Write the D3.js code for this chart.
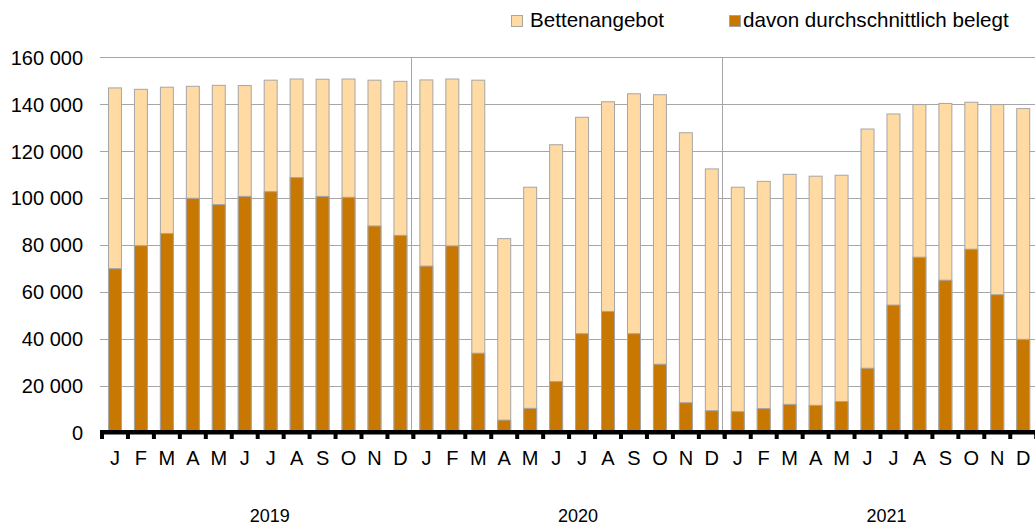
<!DOCTYPE html>
<html>
<head>
<meta charset="utf-8">
<script src="https://cdn.jsdelivr.net/npm/d3@7"></script>
<style>
  body { margin: 0; background: #fff; }
  svg { display: block; font-family: "Liberation Sans", Arial, sans-serif; }
</style>
</head>
<body>
<svg id="chart" viewBox="0 0 1035 526" width="1035" height="526"></svg>
<script>
// data
const years = ["2019", "2020", "2021"];
const monthLabels = ["J", "F", "M", "A", "M", "J", "J", "A", "S", "O", "N", "D"];

const bedsOffered = [
  // 2019
  147000, 146400, 147300, 147700, 148100, 148000, 150300, 150800, 150700, 150800, 150300, 149800,
  // 2020
  150400, 150800, 150300, 82800, 104700, 122800, 134500, 141100, 144500, 144100, 127900, 112500,
  // 2021
  104700, 107200, 110200, 109400, 109800, 129500, 135900, 139900, 140400, 140900, 139900, 138200
];

const bedsOccupied = [
  // 2019
  70000, 79800, 85000, 100000, 97300, 100800, 102800, 108800, 100800, 100400, 88200, 84200,
  // 2020
  71100, 79700, 34000, 5500, 10500, 21900, 42300, 51800, 42300, 29300, 12900, 9500,
  // 2021
  9100, 10400, 12200, 11800, 13400, 27600, 54500, 74900, 65100, 78300, 58900, 39900
];

const yTicks = [0, 20000, 40000, 60000, 80000, 100000, 120000, 140000, 160000];
const seriesNames = ["Bettenangebot", "davon durchschnittlich belegt"];

const colLight = "#FFDAA3";
const colDark = "#C87700";
const colGrey = "#A6A6A6";

const svg = d3.select("#chart");

const rows = bedsOffered.map((d, i) => ({
  idx: i,
  month: monthLabels[i % 12],
  offered: d,
  occupied: bedsOccupied[i]
}));

// scales
const xScale = d3
  .scaleBand()
  .domain(rows.map((d) => d.idx))
  .range([102, 1036.2])
  .paddingInner(0.5)
  .paddingOuter(0.25);

const step = xScale.step();
const bandStart = (i) => xScale(i) - step * 0.25;

const yScale = d3.scaleLinear().domain([0, 160000]).range([433, 57.4]);

const fmt = d3.formatLocale({
  decimal: ",",
  thousands: " ",
  grouping: [3],
  currency: ["", ""]
}).format(",d");

// gridlines
svg
  .append("g")
  .attr("class", "grid")
  .selectAll("line")
  .data(yTicks.filter((d) => d > 0))
  .enter()
  .append("line")
  .attr("x1", 100)
  .attr("x2", 1035)
  .attr("y1", (d) => Math.round(yScale(d)) + 0.5)
  .attr("y2", (d) => Math.round(yScale(d)) + 0.5)
  .style("stroke", colGrey)
  .style("stroke-width", 1);

// y labels
svg
  .append("g")
  .attr("class", "yLabels")
  .selectAll("text")
  .data(yTicks)
  .enter()
  .append("text")
  .attr("x", 83)
  .attr("y", (d) => yScale(d))
  .attr("dy", "0.36em")
  .style("text-anchor", "end")
  .style("font-size", "20px")
  .style("fill", "#000")
  .text((d) => fmt(d));

// year separators
svg
  .append("g")
  .attr("class", "separators")
  .selectAll("line")
  .data([12, 24])
  .enter()
  .append("line")
  .attr("x1", (d) => Math.round(bandStart(d) - 2.5) + 0.5)
  .attr("x2", (d) => Math.round(bandStart(d) - 2.5) + 0.5)
  .attr("y1", yScale(160000))
  .attr("y2", 438)
  .style("stroke", colGrey)
  .style("stroke-width", 1);

// bars: offered behind, occupied in front
const barsG = svg.append("g").attr("class", "bars");

barsG
  .selectAll("rect.offered")
  .data(rows)
  .enter()
  .append("rect")
  .attr("class", "offered")
  .attr("x", (d) => xScale(d.idx))
  .attr("y", (d) => yScale(d.offered))
  .attr("width", xScale.bandwidth())
  .attr("height", (d) => yScale(0) - yScale(d.offered))
  .attr("fill", colLight)
  .style("stroke", colGrey)
  .style("stroke-width", 1);

barsG
  .selectAll("rect.occupied")
  .data(rows)
  .enter()
  .append("rect")
  .attr("class", "occupied")
  .attr("x", (d) => xScale(d.idx))
  .attr("y", (d) => yScale(d.occupied))
  .attr("width", xScale.bandwidth())
  .attr("height", (d) => yScale(0) - yScale(d.occupied))
  .attr("fill", colDark)
  .style("stroke", colGrey)
  .style("stroke-width", 1);

// x axis: thick black line + tick blocks at band boundaries
const axisG = svg.append("g").attr("class", "xAxisG");

axisG
  .append("rect")
  .attr("x", 100)
  .attr("y", 430)
  .attr("width", 935)
  .attr("height", 4.5)
  .attr("fill", "#000");

axisG
  .selectAll("rect.tick")
  .data(d3.range(37))
  .enter()
  .append("rect")
  .attr("class", "tick")
  .attr("x", (d) => xScale.range()[0] + d * step - 2)
  .attr("y", 433)
  .attr("width", 4)
  .attr("height", 6)
  .attr("fill", "#000");

axisG
  .selectAll("text.month")
  .data(rows)
  .enter()
  .append("text")
  .attr("class", "month")
  .attr("x", (d) => xScale(d.idx) + xScale.bandwidth() / 2)
  .attr("y", 465)
  .style("text-anchor", "middle")
  .style("font-size", "20px")
  .style("fill", "#000")
  .text((d) => d.month);

// year labels sit a little right of the group centre in the original
axisG
  .selectAll("text.year")
  .data(years)
  .enter()
  .append("text")
  .attr("class", "year")
  .attr("x", (d, i) => bandStart(i * 12) + step * 6 + 12 - i * 3)
  .attr("y", 522)
  .style("text-anchor", "middle")
  .style("font-size", "18px")
  .style("fill", "#000")
  .text((d) => d);

// legend
const legendG = svg.append("g").attr("class", "color-legend");
const legendX = [511, 729];
const legendTextDx = [19, 14];

const legendGrps = legendG
  .selectAll("g")
  .data(seriesNames)
  .enter()
  .append("g")
  .attr("transform", (d, i) => `translate(${legendX[i]}, 15)`);

legendGrps
  .append("rect")
  .attr("x", 0.5)
  .attr("y", 0.5)
  .attr("width", 11)
  .attr("height", 11)
  .attr("fill", (d, i) => (i === 0 ? colLight : colDark))
  .style("stroke", colGrey)
  .style("stroke-width", 1);

legendGrps
  .append("text")
  .attr("x", 0)
  .attr("dx", (d, i) => legendTextDx[i])
  .attr("y", 12)
  .style("font-size", "20.6px")
  .style("fill", "#000")
  .text((d) => d);
</script>
</body>
</html>
